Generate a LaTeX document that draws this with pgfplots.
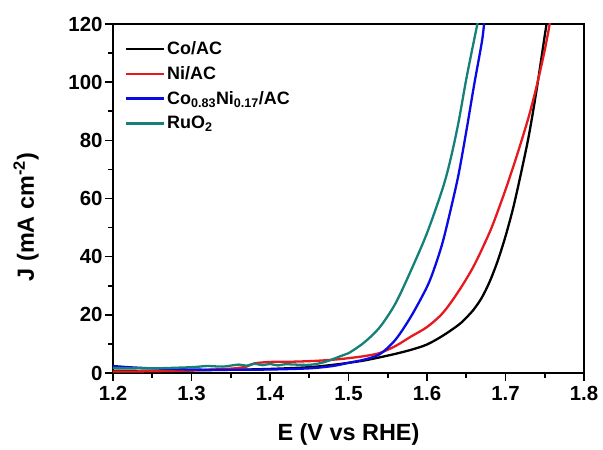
\documentclass[border=0pt]{standalone}
\usepackage{pgfplots}
\pgfplotsset{compat=1.18}
\usepackage{fontspec}
\setmainfont{Liberation Sans}

\definecolor{cored}{RGB}{230,25,30}
\definecolor{coblue}{RGB}{10,10,230}
\definecolor{coteal}{RGB}{20,128,120}

\begin{document}
\begin{tikzpicture}
\begin{axis}[
    scale only axis,
    width=471bp, height=349bp,
    xmin=1.2, xmax=1.8, ymin=0, ymax=120,
    xtick={1.2,1.3,1.4,1.5,1.6,1.7,1.8},
    ytick={0,20,40,60,80,100,120},
    minor x tick num=1, minor y tick num=1,
    tick align=outside, xtick pos=left, ytick pos=left,
    major tick length=8bp, minor tick length=4.5bp,
    every tick/.style={black, line width=1.6bp},
    axis line style={line width=2bp},
    /pgf/number format/assume math mode=true,
    xticklabel={\pgfmathprintnumber[fixed,fixed zerofill,precision=1]{\tick}},
    ticklabel style={font=\fontsize{20.5}{24}\selectfont\bfseries},
    yticklabel style={xshift=1bp},
    xticklabel style={yshift=-2bp},
    label style={font=\fontsize{23.5}{28}\selectfont\bfseries},
    xlabel={E (V vs RHE)},
    ylabel={J (mA cm\textsuperscript{-2})},
    xlabel style={at={(axis description cs:0.5,-0.175)}, anchor=center},
    ylabel style={at={(axis description cs:-0.1847,0.447)}, anchor=center},
    legend cell align=left,
    legend style={at={(0.0185,0.962)}, anchor=north west, draw=none, fill=none,
        font=\fontsize{18}{21}\selectfont\bfseries, row sep=6.5bp},
    legend image code/.code={\draw[#1] (0bp,0bp) -- (38bp,0bp);},
    every axis plot/.append style={line width=2.3bp, smooth},
]
% Co/AC
\addplot[black] coordinates {
(1.20,0.8) (1.25,0.7) (1.30,0.9) (1.35,1.1) (1.40,1.4) (1.45,2.0) (1.48,2.8)
(1.50,3.5) (1.52,4.3) (1.54,5.4) (1.56,6.6) (1.58,8.0) (1.60,9.8) (1.62,12.8)
(1.64,16.5) (1.65,19) (1.66,22) (1.67,26) (1.68,31.5) (1.69,38.5) (1.70,47)
(1.71,57) (1.72,69) (1.73,82) (1.74,98) (1.75,116) (1.753,121)
};
% Ni/AC
\addplot[cored] coordinates {
(1.20,0.5) (1.25,0.6) (1.30,0.9) (1.35,1.5) (1.37,2.2) (1.38,3.3) (1.40,3.8)
(1.43,3.9) (1.46,4.2) (1.49,4.8) (1.52,5.8) (1.54,6.9) (1.56,9.3) (1.58,12.6)
(1.60,15.8) (1.62,20.6) (1.64,28.0) (1.66,37.0) (1.68,48.5) (1.69,55.5) (1.70,63)
(1.71,71) (1.72,79.5) (1.73,88.5) (1.74,99) (1.75,111) (1.757,121)
};
% Co0.83Ni0.17/AC
\addplot[coblue] coordinates {
(1.20,2.4) (1.22,2.0) (1.25,1.6) (1.30,1.2) (1.35,1.1) (1.40,1.2) (1.45,1.6)
(1.48,2.4) (1.50,3.5) (1.52,4.6) (1.54,6.5) (1.56,11.5) (1.58,19.6) (1.60,29.6)
(1.61,36.5) (1.62,45) (1.63,56) (1.64,68) (1.65,83) (1.66,99) (1.67,114) (1.673,121)
};
% RuO2
\addplot[coteal] coordinates {
(1.20,1.7) (1.25,1.6) (1.30,2.0) (1.32,2.4) (1.34,2.2) (1.36,2.9) (1.37,2.5)
(1.38,3.2) (1.39,2.7) (1.40,3.1) (1.41,2.6) (1.42,3.0) (1.45,2.8) (1.47,3.8)
(1.49,5.8) (1.50,6.8) (1.52,10.5) (1.54,15.8) (1.56,24.0) (1.58,35.5) (1.60,48.1)
(1.62,63.5) (1.63,73.5) (1.64,86) (1.65,101) (1.66,114.5) (1.665,121)
};
\legend{Co/AC, Ni/AC, Co\textsubscript{0.83}Ni\textsubscript{0.17}/AC, RuO\textsubscript{2}}
\end{axis}
\path (-113bp,-77bp) rectangle (490bp,373bp);
\end{tikzpicture}
\end{document}
